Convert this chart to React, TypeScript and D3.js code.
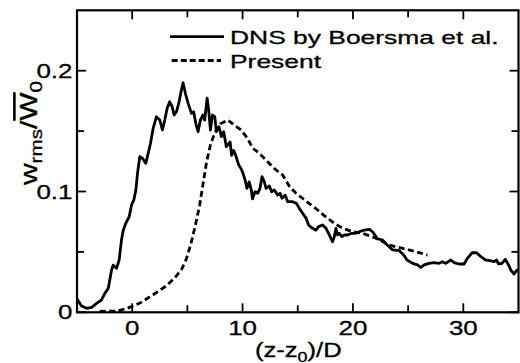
import React from "react";
import * as d3 from "d3";

const dnsX = [-5.0,-4.59,-4.13,-3.68,-3.23,-2.78,-2.48,-2.17,-2.03,-1.87,-1.72,-1.42,-1.18,-0.97,-0.81,-0.58,-0.27,-0.06,0.15,0.33,0.48,0.69,0.93,1.23,1.45,1.66,1.9,2.2,2.5,2.74,2.95,3.17,3.4,3.62,3.8,4.01,4.25,4.46,4.61,4.82,5.07,5.37,5.57,5.76,5.97,6.18,6.42,6.57,6.79,6.93,7.09,7.27,7.48,7.63,7.87,8.08,8.29,8.53,8.87,9.01,9.2,9.41,9.65,9.86,10.0,10.23,10.4,10.6,10.8,10.9,11.13,11.37,11.58,11.76,11.97,12.13,12.43,12.63,12.88,13.18,13.4,13.57,13.87,14.08,14.53,14.9,15.14,15.44,15.75,15.98,16.34,16.65,16.89,17.25,17.56,17.86,18.15,18.31,18.46,18.6,18.76,19.0,19.2,19.5,19.9,20.27,20.57,21.0,21.5,21.8,22.2,22.7,23.1,23.6,24.2,24.6,24.9,25.4,25.85,26.15,26.45,26.9,27.36,27.8,28.1,28.4,28.87,29.17,29.6,30.07,30.37,30.8,31.2,31.6,32.0,32.4,32.8,33.0,33.2,33.5,33.8,34.1,34.3,34.6,34.9];
const dnsY = [0.011,0.0052,0.0033,0.0041,0.0074,0.0102,0.0157,0.0198,0.0267,0.035,0.039,0.0364,0.0433,0.0598,0.068,0.0737,0.0791,0.0888,0.093,0.101,0.115,0.1288,0.1275,0.1233,0.1316,0.1399,0.1523,0.1619,0.1592,0.1509,0.1592,0.1689,0.1743,0.1702,0.1633,0.166,0.1743,0.184,0.19,0.1813,0.173,0.1647,0.166,0.1564,0.1495,0.1592,0.1633,0.1592,0.1772,0.1675,0.1509,0.1633,0.1619,0.1495,0.1536,0.1454,0.1495,0.1371,0.141,0.13,0.134,0.129,0.122,0.119,0.116,0.1095,0.1026,0.108,0.101,0.094,0.0998,0.0985,0.1026,0.1123,0.108,0.1026,0.1046,0.0998,0.1012,0.097,0.0985,0.0944,0.097,0.0916,0.0916,0.09,0.086,0.082,0.078,0.0723,0.0695,0.068,0.0709,0.0723,0.0695,0.064,0.0584,0.0626,0.0695,0.064,0.0654,0.0626,0.064,0.064,0.0654,0.0654,0.0667,0.068,0.0687,0.0665,0.061,0.0598,0.0557,0.0516,0.051,0.0474,0.0433,0.0405,0.0392,0.0372,0.0392,0.0405,0.0411,0.0405,0.0419,0.0405,0.0433,0.0411,0.04,0.04,0.0447,0.0493,0.0493,0.046,0.0433,0.0427,0.0419,0.0433,0.04,0.0405,0.0439,0.0392,0.035,0.0317,0.0356];

const presentX = [-2.95,-1.45,-0.54,0.66,1.9,3.08,4.0,4.5,4.9,5.3,5.7,6.1,6.45,6.75,7.1,7.5,8.0,8.65,9.26,9.86,10.46,10.9,11.52,12.13,12.88,13.63,14.23,14.84,16.05,16.8,17.4,18.31,19.06,19.97,20.87,22.08,23.28,24.49,25.7,26.75];
const presentY = [0.0008,0.001,0.003,0.0074,0.0145,0.0218,0.03,0.036,0.044,0.056,0.071,0.088,0.108,0.125,0.139,0.149,0.156,0.1592,0.155,0.151,0.144,0.136,0.1316,0.126,0.119,0.1137,0.1045,0.0985,0.09,0.0847,0.08,0.0737,0.0695,0.0667,0.0654,0.0613,0.0557,0.053,0.0502,0.0474];

const xMajor = [0, 10, 20, 30];
const xMinor = [5, 15, 25];
const yMajor = [0, 0.1, 0.2];
const yMinor = [0.05, 0.15];
const xTickLabels = ["0", "10", "20", "30"];
const yTickLabels = ["0", "0.1", "0.2"];
const legendLabels = ["DNS by Boersma et al.", "Present"];

const W = 520, H = 363;
const FONT = "'Liberation Sans', Arial, Helvetica, sans-serif";

function SText({ x, y, sx = 1.33, size = 19.5, anchor = "start", rotate = 0, children }: any) {
  return (
    <text
      transform={`translate(${x},${y}) rotate(${rotate}) scale(${sx},1)`}
      textAnchor={anchor}
      fontFamily={FONT}
      fontSize={size}
      fill="#000"
      stroke="#000"
      strokeWidth={0.3}
    >
      {children}
    </text>
  );
}

export default function App() {
  const x = d3.scaleLinear().domain([-5, 35]).range([77, 518.5]);
  const y = d3.scaleLinear().domain([0, 0.25]).range([312.3, 10.3]);
  const line = d3.line<[number, number]>().x((d) => x(d[0])).y((d) => y(d[1]));
  const dns = dnsX.map((v, i) => [v, dnsY[i]] as [number, number]);
  const pres = presentX.map((v, i) => [v, presentY[i]] as [number, number]);
  const [x0, x1] = x.range();
  const [y0, y1] = y.range();
  const MAJ = 9, MIN = 7;

  return (
    <svg width={W} height={H} style={{ position: "absolute", left: 0, top: 0, background: "#fff" }}>
      <rect x={0} y={0} width={W} height={H} fill="#fff" />
      {/* curves */}
      <path d={line(dns) || ""} fill="none" stroke="#000" strokeWidth={2.8} strokeLinejoin="round" />
      <path d={line(pres) || ""} fill="none" stroke="#000" strokeWidth={2.8} strokeDasharray="6,3.5" />
      {/* frame */}
      <rect x={x0} y={y1} width={x1 - x0} height={y0 - y1} fill="none" stroke="#000" strokeWidth={2.2} />
      {/* x ticks */}
      {xMajor.map((t) => (
        <g key={"xm" + t}>
          <line x1={x(t)} x2={x(t)} y1={y0} y2={y0 - MAJ} stroke="#000" strokeWidth={1.8} />
          <line x1={x(t)} x2={x(t)} y1={y1} y2={y1 + MAJ} stroke="#000" strokeWidth={1.8} />
        </g>
      ))}
      {xMinor.map((t) => (
        <g key={"xn" + t}>
          <line x1={x(t)} x2={x(t)} y1={y0} y2={y0 - MIN} stroke="#000" strokeWidth={1.8} />
          <line x1={x(t)} x2={x(t)} y1={y1} y2={y1 + MIN} stroke="#000" strokeWidth={1.8} />
        </g>
      ))}
      {yMajor.map((t) => (
        <g key={"ym" + t}>
          <line x1={x0} x2={x0 + MAJ} y1={y(t)} y2={y(t)} stroke="#000" strokeWidth={1.8} />
          <line x1={x1} x2={x1 - MAJ} y1={y(t)} y2={y(t)} stroke="#000" strokeWidth={1.8} />
        </g>
      ))}
      {yMinor.map((t) => (
        <g key={"yn" + t}>
          <line x1={x0} x2={x0 + MIN} y1={y(t)} y2={y(t)} stroke="#000" strokeWidth={1.8} />
          <line x1={x1} x2={x1 - MIN} y1={y(t)} y2={y(t)} stroke="#000" strokeWidth={1.8} />
        </g>
      ))}
      {/* tick labels */}
      {xMajor.map((t, i) => (
        <SText key={"xl" + t} x={x(t)} y={334.5} anchor="middle">{xTickLabels[i]}</SText>
      ))}
      {yMajor.map((t, i) => (
        <SText key={"yl" + t} x={72.5} y={y(t) + 7} anchor="end">{yTickLabels[i]}</SText>
      ))}
      {/* axis labels */}
      <SText x={298.3} y={356.5} anchor="middle" size={20} sx={1.28}>
        (z-z<tspan fontSize={14} dy={5}>0</tspan><tspan dy={-5}>)/D</tspan>
      </SText>
      <SText x={37} y={133} anchor="middle" size={24} sx={1.25} rotate={-90}>
        w<tspan fontSize={16.5} dy={5}>rms</tspan>
        <tspan dy={-5}>/</tspan>
        <tspan style={{ textDecoration: "overline" }}>W</tspan>
        <tspan fontSize={16.5} dy={5}>0</tspan>
      </SText>
      {/* legend */}
      <line x1={170} x2={224} y1={36.7} y2={36.7} stroke="#000" strokeWidth={2.8} />
      <line x1={171.7} x2={221} y1={60.5} y2={60.5} stroke="#000" strokeWidth={2.8} strokeDasharray="6,3" />
      <SText x={230} y={43.7} size={19} sx={1.39}>{legendLabels[0]}</SText>
      <SText x={230} y={67.5} size={19} sx={1.39}>{legendLabels[1]}</SText>
    </svg>
  );
}
